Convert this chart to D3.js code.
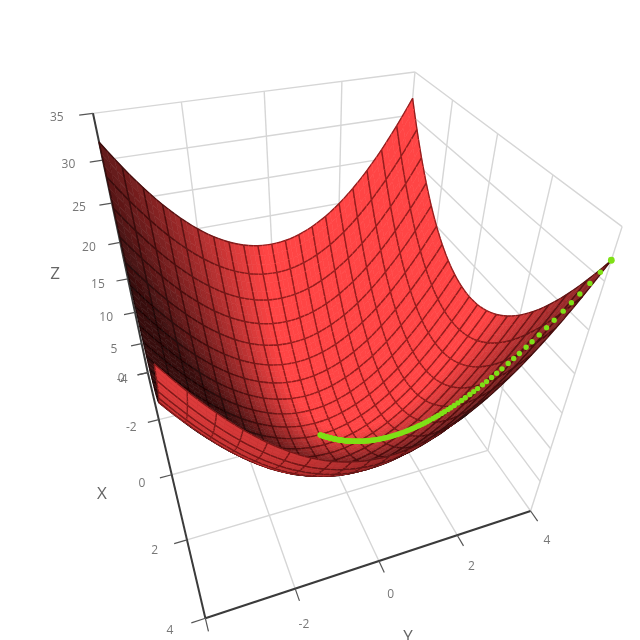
<!DOCTYPE html>
<html><head><meta charset="utf-8">
<style>html,body{margin:0;padding:0;background:#fff}svg{display:block}text{font-family:"Open Sans",sans-serif}</style>
<script src="https://cdn.jsdelivr.net/npm/d3@7/dist/d3.min.js"></script>
</head><body><script>
const xGrid=[-4,-3.6,-3.2,-2.8,-2.4,-2,-1.6,-1.2,-0.8,-0.4,0,0.4,0.8,1.2,1.6,2,2.4,2.8,3.2,3.6,4];
const yGrid=[-4,-3.6,-3.2,-2.8,-2.4,-2,-1.6,-1.2,-0.8,-0.4,0,0.4,0.8,1.2,1.6,2,2.4,2.8,3.2,3.6,4];
const zGrid=[
[32,28.96,26.24,23.84,21.76,20,18.56,17.44,16.64,16.16,16,16.16,16.64,17.44,18.56,20,21.76,23.84,26.24,28.96,32],
[28.96,25.92,23.2,20.8,18.72,16.96,15.52,14.4,13.6,13.12,12.96,13.12,13.6,14.4,15.52,16.96,18.72,20.8,23.2,25.92,28.96],
[26.24,23.2,20.48,18.08,16,14.24,12.8,11.68,10.88,10.4,10.24,10.4,10.88,11.68,12.8,14.24,16,18.08,20.48,23.2,26.24],
[23.84,20.8,18.08,15.68,13.6,11.84,10.4,9.28,8.48,8,7.84,8,8.48,9.28,10.4,11.84,13.6,15.68,18.08,20.8,23.84],
[21.76,18.72,16,13.6,11.52,9.76,8.32,7.2,6.4,5.92,5.76,5.92,6.4,7.2,8.32,9.76,11.52,13.6,16,18.72,21.76],
[20,16.96,14.24,11.84,9.76,8,6.56,5.44,4.64,4.16,4,4.16,4.64,5.44,6.56,8,9.76,11.84,14.24,16.96,20],
[18.56,15.52,12.8,10.4,8.32,6.56,5.12,4,3.2,2.72,2.56,2.72,3.2,4,5.12,6.56,8.32,10.4,12.8,15.52,18.56],
[17.44,14.4,11.68,9.28,7.2,5.44,4,2.88,2.08,1.6,1.44,1.6,2.08,2.88,4,5.44,7.2,9.28,11.68,14.4,17.44],
[16.64,13.6,10.88,8.48,6.4,4.64,3.2,2.08,1.28,0.8,0.64,0.8,1.28,2.08,3.2,4.64,6.4,8.48,10.88,13.6,16.64],
[16.16,13.12,10.4,8,5.92,4.16,2.72,1.6,0.8,0.32,0.16,0.32,0.8,1.6,2.72,4.16,5.92,8,10.4,13.12,16.16],
[16,12.96,10.24,7.84,5.76,4,2.56,1.44,0.64,0.16,0,0.16,0.64,1.44,2.56,4,5.76,7.84,10.24,12.96,16],
[16.16,13.12,10.4,8,5.92,4.16,2.72,1.6,0.8,0.32,0.16,0.32,0.8,1.6,2.72,4.16,5.92,8,10.4,13.12,16.16],
[16.64,13.6,10.88,8.48,6.4,4.64,3.2,2.08,1.28,0.8,0.64,0.8,1.28,2.08,3.2,4.64,6.4,8.48,10.88,13.6,16.64],
[17.44,14.4,11.68,9.28,7.2,5.44,4,2.88,2.08,1.6,1.44,1.6,2.08,2.88,4,5.44,7.2,9.28,11.68,14.4,17.44],
[18.56,15.52,12.8,10.4,8.32,6.56,5.12,4,3.2,2.72,2.56,2.72,3.2,4,5.12,6.56,8.32,10.4,12.8,15.52,18.56],
[20,16.96,14.24,11.84,9.76,8,6.56,5.44,4.64,4.16,4,4.16,4.64,5.44,6.56,8,9.76,11.84,14.24,16.96,20],
[21.76,18.72,16,13.6,11.52,9.76,8.32,7.2,6.4,5.92,5.76,5.92,6.4,7.2,8.32,9.76,11.52,13.6,16,18.72,21.76],
[23.84,20.8,18.08,15.68,13.6,11.84,10.4,9.28,8.48,8,7.84,8,8.48,9.28,10.4,11.84,13.6,15.68,18.08,20.8,23.84],
[26.24,23.2,20.48,18.08,16,14.24,12.8,11.68,10.88,10.4,10.24,10.4,10.88,11.68,12.8,14.24,16,18.08,20.48,23.2,26.24],
[28.96,25.92,23.2,20.8,18.72,16.96,15.52,14.4,13.6,13.12,12.96,13.12,13.6,14.4,15.52,16.96,18.72,20.8,23.2,25.92,28.96],
[32,28.96,26.24,23.84,21.76,20,18.56,17.44,16.64,16.16,16,16.16,16.64,17.44,18.56,20,21.76,23.84,26.24,28.96,32]];
const pathX=[4,3.92,3.84,3.76,3.69,3.62,3.54,3.47,3.4,3.33,3.27,3.2,3.14,3.08,3.01,2.95,2.89,2.83,2.78,2.72,2.67,2.62,2.56,2.51,2.46,2.41,2.36,2.32,2.27,2.23,2.18,2.14,2.1,2.05,2.01,1.97,1.93,1.89,1.86,1.82,1.78,1.75,1.71,1.68,1.65,1.61,1.58,1.55,1.52,1.49,1.46,1.43,1.4,1.37,1.34,1.32,1.29,1.27,1.24,1.22,1.19,1.17,1.15,1.12,1.1,1.08,1.06,1.04,1.02,1,0.98,0.96,0.94,0.92,0.9,0.88,0.87,0.85,0.83,0.82,0.8,0.78,0.77,0.75,0.74,0.72,0.71,0.7,0.68,0.67,0.65,0.64,0.63,0.62,0.6,0.59,0.58,0.57,0.56,0.55,0.54,0.53,0.52,0.51,0.5,0.49,0.48,0.47,0.46,0.45,0.44,0.43,0.42,0.41,0.4,0.39,0.38,0.37,0.36,0.35,0.34,0.33,0.32,0.31,0.3,0.29,0.28,0.27,0.26,0.25,0.24,0.23,0.22,0.21,0.2,0.19,0.18,0.17,0.16,0.15,0.14,0.13,0.12,0.11,0.1,0.09,0.08,0.07,0.06,0.05,0.04,0.03,0.02,0.01];
const xTicks=[-4,-2,0,2,4], yTicks=[-4,-2,0,2,4], zTicks=[0,5,10,15,20,25,30,35];

const W=640,H=640;
const sx=d3.scaleLinear().domain([-4,4]).range([0,1]);
const sy=d3.scaleLinear().domain([-4,4]).range([0,1]);
const sz=d3.scaleLinear().domain([0,35]).range([0,1]);

// camera fitted to the box corners seen in the picture
const corners=[[0,0,0,148,373],[1,0,0,205,618],[1,1,0,531,511],[0,1,0,393,316],[0,0,1,93,113],[1,1,1,622,227],[0,1,1,415,72]];
function solve(A,b){const n=b.length,M=A.map((r,i)=>[...r,b[i]]);
 for(let c=0;c<n;c++){let p=c;for(let r=c+1;r<n;r++)if(Math.abs(M[r][c])>Math.abs(M[p][c]))p=r;[M[c],M[p]]=[M[p],M[c]];
  for(let r=0;r<n;r++)if(r!==c){const f=M[r][c]/M[c][c];for(let k=c;k<=n;k++)M[r][k]-=f*M[c][k];}}
 return M.map((r,i)=>r[n]/r[i]);}
const rows=[],rhs=[];
corners.forEach(([u,v,w,px,py])=>{
 rows.push([u,v,w,1,0,0,0,0,-px*u,-px*v,-px*w]);rhs.push(px);
 rows.push([0,0,0,0,u,v,w,1,-py*u,-py*v,-py*w]);rhs.push(py);});
const AtA=d3.range(11).map(i=>d3.range(11).map(j=>d3.sum(rows,r=>r[i]*r[j])));
const Atb=d3.range(11).map(i=>d3.sum(rows,(r,k)=>r[i]*rhs[k]));
const p=solve(AtA,Atb);
function cam(u,v,w){const d=p[8]*u+p[9]*v+p[10]*w+1;
 return [(p[0]*u+p[1]*v+p[2]*w+p[3])/d,(p[4]*u+p[5]*v+p[6]*w+p[7])/d,d];}
const proj=(x,y,z)=>cam(sx(x),sy(y),sz(z));

const svg=d3.select("body").append("svg").attr("width",W).attr("height",H).attr("viewBox",`0 0 ${W} ${H}`);
const defs=svg.append("defs");
defs.append("filter").attr("id","soft").attr("x","-5%").attr("y","-5%").attr("width","110%").attr("height","110%")
 .append("feGaussianBlur").attr("stdDeviation",0.6);
svg.append("rect").attr("width",W).attr("height",H).attr("fill","#fff");
const root=svg.append("g").attr("filter","url(#soft)");

const seg=(a,b)=>`M${a[0].toFixed(2)},${a[1].toFixed(2)}L${b[0].toFixed(2)},${b[1].toFixed(2)}`;
const xIn=xTicks.slice(1,-1), yIn=yTicks.slice(1,-1), zIn=zTicks.slice(1);
const gridSegs=[];
yIn.forEach(y=>{gridSegs.push([[-4,y,0],[-4,y,35]],[[-4,y,0],[4,y,0]]);});
xIn.forEach(x=>{gridSegs.push([[x,4,0],[x,4,35]],[[x,-4,0],[x,4,0]]);});
zIn.forEach(z=>{gridSegs.push([[-4,-4,z],[-4,4,z]],[[-4,4,z],[4,4,z]]);});
gridSegs.push([[4,4,35],[4,4,0]],[[-4,4,35],[-4,4,0]],[[-4,4,0],[4,4,0]],[[-4,-4,0],[-4,4,0]]);
root.append("g").selectAll("path").data(gridSegs).join("path")
 .attr("d",d=>seg(proj(...d[0]),proj(...d[1]))).attr("fill","none").attr("stroke","#d6d6d6").attr("stroke-width",1.4);

// axes
const axisSegs=[[[-4,-4,35],[-4,-4,0]],[[-4,-4,0],[4,-4,0]],[[4,-4,0],[4,4,0]]];
root.append("g").selectAll("path").data(axisSegs).join("path")
 .attr("d",d=>seg(proj(...d[0]),proj(...d[1]))).attr("fill","none").attr("stroke","#3a3a3a").attr("stroke-width",2);
const tickSegs=[];
zTicks.forEach(z=>tickSegs.push([[-4,-4,z],[-4,-4.3,z]]));
xTicks.forEach(x=>tickSegs.push([[x,-4,0],[x,-4.3,0]]));
yTicks.forEach(y=>tickSegs.push([[4,y,0],[4.3,y,0]]));
root.append("g").selectAll("path").data(tickSegs).join("path")
 .attr("d",d=>seg(proj(...d[0]),proj(...d[1]))).attr("fill","none").attr("stroke","#555").attr("stroke-width",1.2);

// surface: z table, smoothed between table nodes for drawing
const n=xGrid.length-1,m=yGrid.length-1;
function node(i,j){
 if(i<0)return 3*node(i+1,j)-3*node(i+2,j)+node(i+3,j);
 if(i>n)return 3*node(i-1,j)-3*node(i-2,j)+node(i-3,j);
 if(j<0)return 3*node(i,j+1)-3*node(i,j+2)+node(i,j+3);
 if(j>m)return 3*node(i,j-1)-3*node(i,j-2)+node(i,j-3);
 return zGrid[i][j];}
const cr=(a,b,c,d,t)=>0.5*(2*b+(c-a)*t+(2*a-5*b+4*c-d)*t*t+(3*b-a-3*c+d)*t*t*t);
function zAt(a,b){const i=Math.min(Math.floor(a),n-1),j=Math.min(Math.floor(b),m-1),s=a-i,t=b-j;
 const col=k=>cr(node(k,j-1),node(k,j),node(k,j+1),node(k,j+2),t);
 return cr(col(i-1),col(i),col(i+1),col(i+2),s);}
const xAt=a=>xGrid[0]+(xGrid[n]-xGrid[0])*a/n, yAt=b=>yGrid[0]+(yGrid[m]-yGrid[0])*b/m;
const P=(a,b)=>proj(xAt(a),yAt(b),zAt(a,b));
const viewSign=d3.polygonArea([P(10,10),P(11,10),P(11,11),P(10,11)].map(v=>[v[0],v[1]]))>0?1:-1;
const Lfront=[0.5,-0.6,0.6], Lback=[0.55,-0.55,0.2];
const sub=3,cells=[];
for(let i=0;i<n;i++)for(let j=0;j<m;j++)for(let s=0;s<sub;s++)for(let t=0;t<sub;t++){
 const a0=i+s/sub,a1=i+(s+1)/sub,b0=j+t/sub,b1=j+(t+1)/sub,ac=(a0+a1)/2,bc=(b0+b1)/2;
 const q=[P(a0,b0),P(a1,b0),P(a1,b1),P(a0,b1)];
 const area=d3.polygonArea(q.map(v=>[v[0],v[1]]));
 const e=0.05;
 const du=(zAt(ac+e,bc)-zAt(ac-e,bc))/(2*e)/0.4*(8/35), dv=(zAt(ac,bc+e)-zAt(ac,bc-e))/(2*e)/0.4*(8/35);
 let N=[-du,-dv,1];const len=Math.hypot(...N);N=N.map(v=>v/len);
 const front=area*viewSign>0; if(!front)N=N.map(v=>-v);
 const L=front?Lfront:Lback;
 const dot=Math.max(0,N[0]*L[0]+N[1]*L[1]+N[2]*L[2]);
 const f=Math.min(1,front?0.22+1.12*dot:0.22+1.0*dot);
 const col=d3.rgb(255*f,68*f,68*f);
 const lines=[];
 if(t===0)lines.push(seg(q[0],q[1])); if(t===sub-1)lines.push(seg(q[3],q[2]));
 if(s===0)lines.push(seg(q[0],q[3])); if(s===sub-1)lines.push(seg(q[1],q[2]));
 cells.push({d:d3.mean(q,v=>v[2]),path:"M"+q.map(v=>v[0].toFixed(2)+","+v[1].toFixed(2)).join("L")+"Z",col:col.formatHex(),
  line:lines.join(""),lc:d3.rgb(col.r*0.58,col.g*0.45,col.b*0.45).formatHex()});}
cells.sort((a,b)=>b.d-a.d);
const els=[];cells.forEach(c=>{els.push({d:c.path,fill:c.col,stroke:c.col,w:0.6});if(c.line)els.push({d:c.line,fill:"none",stroke:c.lc,w:1.35});});
root.append("g").selectAll("path").data(els).join("path").attr("d",d=>d.d).attr("fill",d=>d.fill).attr("stroke",d=>d.stroke).attr("stroke-width",d=>d.w);

// descent path markers
const pathPt=d=>proj(d,d,zAt((d+4)/0.4,(d+4)/0.4));
root.append("g").selectAll("circle").data(pathX).join("circle")
 .attr("cx",d=>pathPt(d)[0]).attr("cy",d=>pathPt(d)[1])
 .attr("r",(d,i)=>i===0?3.4:2.7).attr("fill","#7fe014");

// labels
const txt=root.append("g").attr("fill","#777").attr("font-size",12).attr("text-anchor","middle").attr("dominant-baseline","central");
const lab=[];
zTicks.forEach(z=>{const q=proj(-4,-4.78,z);lab.push({t:String(z),p:[q[0],q[1]-1.5]});});
xTicks.forEach(x=>lab.push({t:String(x),p:proj(x,-4.75,0)}));
yTicks.slice(1).forEach(y=>{const q=proj(4.8,y,0);lab.push({t:String(y),p:[q[0]-3,q[1]+1.5]});});
txt.selectAll("text").data(lab).join("text").attr("x",d=>d.p[0]).attr("y",d=>d.p[1]).text(d=>d.t);
const titles=[["Z",55,272],["X",102,492],["Y",408,635]];
root.append("g").attr("fill","#666").attr("font-size",17).attr("text-anchor","middle").attr("dominant-baseline","central")
 .selectAll("text").data(titles).join("text").attr("x",d=>d[1]).attr("y",d=>d[2]).text(d=>d[0]);
</script></body></html>
